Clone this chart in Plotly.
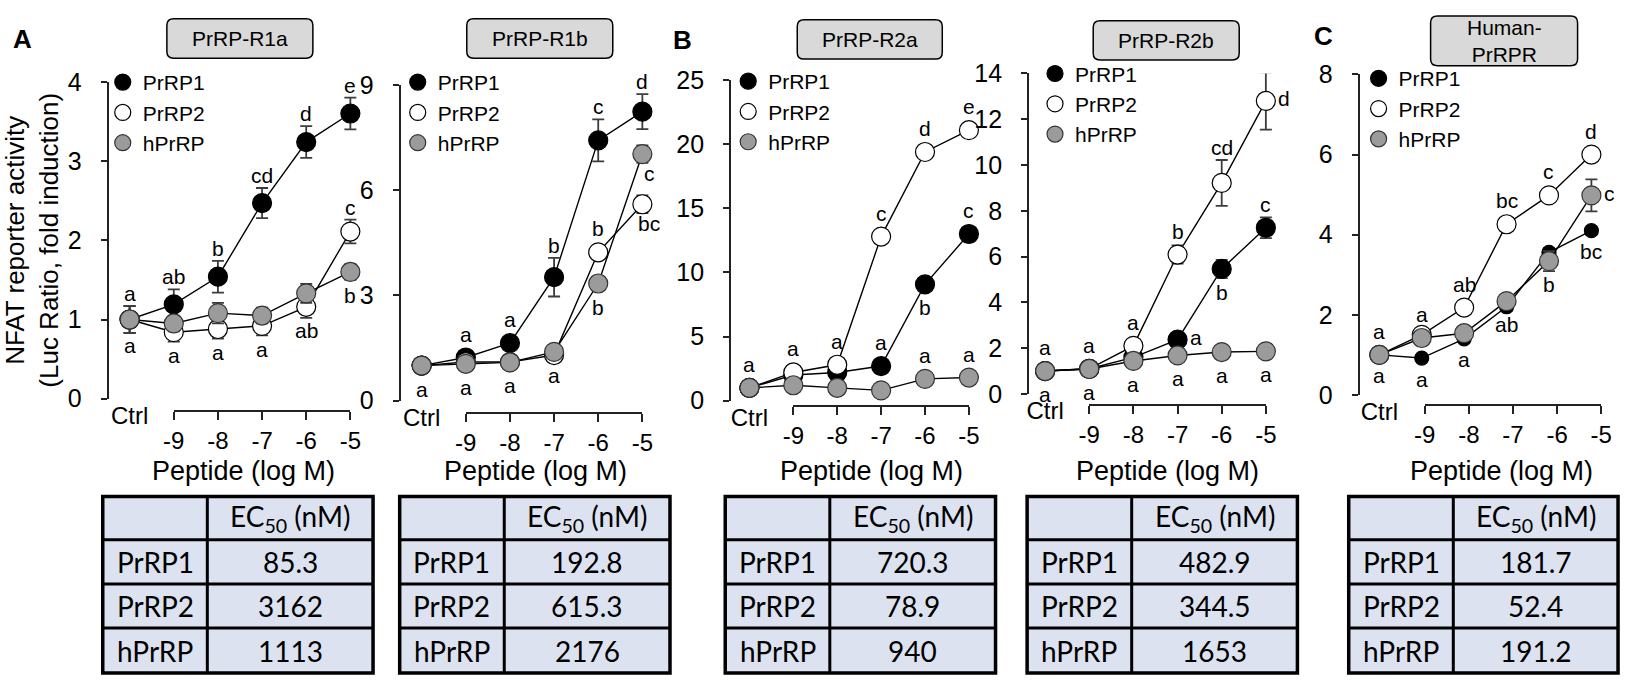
import plotly.graph_objects as go

W, H = 1632, 690
FONT = "Liberation Sans, Arial"

DOSES = [-10, -9, -8, -7, -6, -5]      # -10 is the Ctrl position
DOSE_TICKS = [-9, -8, -7, -6, -5]
DOSE_LABELS = ["-9", "-8", "-7", "-6", "-5"]
PEPTIDES = ["PrRP1", "PrRP2", "hPrRP"]

# PrRP-R1a
R1A_P1 = [1.0, 1.19, 1.54, 2.47, 3.24, 3.6]
R1A_P1_ERR = [0.17, 0.19, 0.2, 0.19, 0.2, 0.2]
R1A_P1_LET = ["", "ab:t", "b:t", "cd:t", "d:t", "e:t"]
R1A_P2 = [1.0, 0.84, 0.88, 0.92, 1.16, 2.11]
R1A_P2_ERR = [0.17, 0.12, 0.12, 0.12, 0.14, 0.15]
R1A_P2_LET = ["a:b", "a:b", "a:b", "a:b", "ab:b", "c:t"]
R1A_H = [1.0, 0.95, 1.08, 1.05, 1.33, 1.6]
R1A_H_ERR = [0.17, 0.1, 0.13, 0.1, 0.12, 0.1]
R1A_H_LET = ["a:t", "", "", "", "", "b:b"]

# PrRP-R1b
R1B_P1 = [1.0, 1.23, 1.64, 3.52, 7.42, 8.24]
R1B_P1_ERR = [0.1, 0.1, 0.15, 0.55, 0.6, 0.5]
R1B_P1_LET = ["", "a:t", "a:t", "b:t", "c:t", "d:t"]
R1B_P2 = [1.0, 1.1, 1.1, 1.3, 4.23, 5.6]
R1B_P2_ERR = [0.1, 0.1, 0.1, 0.2, 0.2, 0.25]
R1B_P2_LET = ["", "", "", "", "b:t", "bc:br"]
R1B_H = [1.0, 1.05, 1.09, 1.39, 3.34, 7.03]
R1B_H_ERR = [0.1, 0.1, 0.1, 0.2, 0.2, 0.25]
R1B_H_LET = ["a:b", "a:b", "a:b", "a:b", "b:b", "c:br"]

# PrRP-R2a
R2A_P1 = [1.0, 2.0, 2.2, 2.7, 9.07, 13.0]
R2A_P1_ERR = [0.2, 0.2, 0.2, 0.3, 0.4, 0.4]
R2A_P1_LET = ["", "", "", "a:t", "b:b", "c:t"]
R2A_P2 = [1.0, 2.2, 2.8, 12.8, 19.4, 21.1]
R2A_P2_ERR = [0.2, 0.3, 0.3, 0.4, 0.4, 0.5]
R2A_P2_LET = ["", "a:t", "a:t", "c:t", "d:t", "e:t"]
R2A_H = [1.0, 1.2, 1.0, 0.8, 1.7, 1.8]
R2A_H_ERR = [0.2, 0.2, 0.2, 0.2, 0.2, 0.2]
R2A_H_LET = ["a:t", "", "", "", "a:t", "a:t"]

# PrRP-R2b
R2B_P1 = [1.0, 1.1, 1.6, 2.37, 5.46, 7.26]
R2B_P1_ERR = [0.1, 0.1, 0.1, 0.3, 0.4, 0.45]
R2B_P1_LET = ["a:b", "a:b", "", "a:r", "b:b", "c:t"]
R2B_P2 = [1.0, 1.1, 2.1, 6.09, 9.22, 12.8]
R2B_P2_ERR = [0.1, 0.1, 0.1, 0.4, 1.0, 1.25]
R2B_P2_LET = ["", "", "a:t", "b:t", "cd:t", "d:r"]
R2B_H = [1.0, 1.09, 1.44, 1.68, 1.83, 1.86]
R2B_H_ERR = [0.1, 0.1, 0.1, 0.1, 0.1, 0.1]
R2B_H_LET = ["a:t", "a:t", "a:b", "a:b", "a:b", "a:b"]

# Human-PrRPR
C_P1 = [1.0, 0.92, 1.4, 2.2, 3.56, 4.1]
C_P1_ERR = [0.1, 0.05, 0.05, 0.1, 0.1, 0.1]
C_P1_LET = ["a:b", "a:b", "a:b", "", "", "bc:b"]
C_P2 = [1.0, 1.5, 2.18, 4.26, 4.98, 6.0]
C_P2_ERR = [0.1, 0.1, 0.1, 0.1, 0.1, 0.1]
C_P2_LET = ["", "", "ab:t", "bc:t", "c:t", "d:t"]
C_H = [1.0, 1.42, 1.54, 2.34, 3.34, 4.98]
C_H_ERR = [0.1, 0.1, 0.1, 0.1, 0.25, 0.4]
C_H_LET = ["a:t", "a:t", "", "ab:b", "b:b", "c:r"]

# EC50 (nM)
EC50_R1A = [85.3, 3162, 1113]
EC50_R1B = [192.8, 615.3, 2176]
EC50_R2A = [720.3, 78.9, 940]
EC50_R2B = [482.9, 344.5, 1653]
EC50_C = [181.7, 52.4, 191.2]

RECEPTORS = ["PrRP-R1a", "PrRP-R1b", "PrRP-R2a", "PrRP-R2b", "Human-<br>PrRPR"]
PANEL_DATA = [
    [(R1A_P1, R1A_P1_ERR, R1A_P1_LET), (R1A_P2, R1A_P2_ERR, R1A_P2_LET), (R1A_H, R1A_H_ERR, R1A_H_LET)],
    [(R1B_P1, R1B_P1_ERR, R1B_P1_LET), (R1B_P2, R1B_P2_ERR, R1B_P2_LET), (R1B_H, R1B_H_ERR, R1B_H_LET)],
    [(R2A_P1, R2A_P1_ERR, R2A_P1_LET), (R2A_P2, R2A_P2_ERR, R2A_P2_LET), (R2A_H, R2A_H_ERR, R2A_H_LET)],
    [(R2B_P1, R2B_P1_ERR, R2B_P1_LET), (R2B_P2, R2B_P2_ERR, R2B_P2_LET), (R2B_H, R2B_H_ERR, R2B_H_LET)],
    [(C_P1, C_P1_ERR, C_P1_LET), (C_P2, C_P2_ERR, C_P2_LET), (C_H, C_H_ERR, C_H_LET)],
]
EC50 = [EC50_R1A, EC50_R1B, EC50_R2A, EC50_R2B, EC50_C]

# layout in pixels (x0/x1 plot edges, d9/d5 data columns, t9/t5 tick ends)
GEOM = [
    dict(x0=99, x1=362, ytop=70.7, ybot=401, d9=165, d5=344, t9=165, t5=344, yline=414,
         ymax=4, dtick=1, tx=236, box=(158, 5, 306, 46), leg=(120, 81), tab=(93, 367)),
    dict(x0=395, x1=658, ytop=74, ybot=403, d9=461, d5=640, t9=461, t5=640, yline=416,
         ymax=9, dtick=3, tx=532, box=(462, 5, 610, 46), leg=(419, 81), tab=(394, 668)),
    dict(x0=730, x1=989, ytop=69, ybot=403, d9=793, d5=971, t9=793, t5=971, yline=409,
         ymax=25, dtick=5, tx=872, box=(797, 6, 944, 47), leg=(754, 80), tab=(724, 998)),
    dict(x0=1032, x1=1290, ytop=62, ybot=396, d9=1093, d5=1272, t9=1093, t5=1272, yline=408,
         ymax=14, dtick=2, tx=1172, box=(1097, 7, 1245, 48), leg=(1065, 72), tab=(1030, 1304)),
    dict(x0=1367, x1=1625, ytop=63, ybot=397, d9=1430, d5=1602, t9=1433, t5=1612, yline=408,
         ymax=8, dtick=2, tx=1511, box=(1439, 2, 1588, 54), leg=(1393, 77), tab=(1356, 1629)),
]
TAB_ROWS = [503, 548, 594, 640, 687]   # row borders of the EC50 tables
TAB_COL = 106                          # width of the name column

MARKERS = [
    dict(color="black", line=dict(color="black", width=1.2)),
    dict(color="white", line=dict(color="black", width=1.2)),
    dict(color="#9b9b9b", line=dict(color="#333333", width=1.2)),
]


def px(x):
    return x / W


def py(y):
    return 1 - y / H


def rbox(x0, y0, x1, y1, r=7):
    pts = [
        f"M {px(x0 + r)},{py(y0)}", f"L {px(x1 - r)},{py(y0)}",
        f"Q {px(x1)},{py(y0)} {px(x1)},{py(y0 + r)}", f"L {px(x1)},{py(y1 - r)}",
        f"Q {px(x1)},{py(y1)} {px(x1 - r)},{py(y1)}", f"L {px(x0 + r)},{py(y1)}",
        f"Q {px(x0)},{py(y1)} {px(x0)},{py(y1 - r)}", f"L {px(x0)},{py(y0 + r)}",
        f"Q {px(x0)},{py(y0)} {px(x0 + r)},{py(y0)}", "Z",
    ]
    return " ".join(pts)


def paper_text(x, y, text, size, **kw):
    return dict(x=px(x), y=py(y), xref="paper", yref="paper", text=text, showarrow=False,
                xanchor="center", yanchor="middle", font=dict(size=size, **kw))


fig = go.Figure()
annotations = []
shapes = []
layout = {}

for i, g in enumerate(GEOM):
    n = i + 1
    xa, ya, ta = f"x{n}", f"y{n}", f"x{n + 5}"
    leg = "legend" if i == 0 else f"legend{n}"
    s = (g["d5"] - g["d9"]) / 4
    xr = [-9 - (g["d9"] - g["x0"]) / s, -5 + (g["x1"] - g["d5"]) / s]
    pu = (g["ybot"] - g["ytop"]) / g["ymax"]
    sizes = [19, 19, 19] if i < 4 else [14, 19, 19]

    # connecting lines first, markers on top
    for vals, err, lets in PANEL_DATA[i]:
        fig.add_trace(go.Scatter(x=DOSES, y=vals, mode="lines", xaxis=xa, yaxis=ya,
                                 line=dict(color="black", width=1.4),
                                 showlegend=False, hoverinfo="skip"))
    for k, (vals, err, lets) in enumerate(PANEL_DATA[i]):
        fig.add_trace(go.Scatter(
            x=DOSES, y=vals, mode="markers", xaxis=xa, yaxis=ya, cliponaxis=False,
            marker=dict(size=sizes[k], **MARKERS[k]),
            error_y=dict(type="data", array=err, color="#3c3c3c", thickness=1.8, width=6),
            showlegend=False, name=PEPTIDES[k]))
        rad = sizes[k] / 2
        for x, v, e, l in zip(DOSES, vals, err, lets):
            if not l:
                continue
            txt, pos = l.split(":")
            off = max(rad + 2, e * pu) + 12
            xs, ys = 0, 0
            if pos == "t":
                ys = off
            elif pos == "b":
                ys = -off
            elif pos == "r":
                xs, ys = rad + 9, 2
            elif pos == "br":
                xs, ys = 7, -(rad + 10)
            annotations.append(dict(x=x, y=v, xref=xa, yref=ya, text=txt, showarrow=False,
                                    xshift=xs, yshift=ys, font=dict(size=21, color="black")))
    for k, name in enumerate(PEPTIDES):
        fig.add_trace(go.Scatter(x=[None], y=[None], mode="markers", name=name, legend=leg,
                                 xaxis=xa, yaxis=ya, marker=dict(size=16, **MARKERS[k])))
    # helper trace so the dose axis gets drawn
    fig.add_trace(go.Scatter(x=DOSE_TICKS, y=[None] * 5, xaxis=ta, yaxis=ya,
                             showlegend=False, hoverinfo="skip"))

    layout[f"xaxis{n}"] = dict(domain=[px(g["x0"]), px(g["x1"])], range=xr, anchor=ya,
                               showline=False, showgrid=False, zeroline=False, ticks="",
                               tickvals=[-10], ticktext=["Ctrl"], tickfont=dict(size=24),
                               fixedrange=True)
    layout[f"xaxis{n + 5}"] = dict(domain=[px(g["t9"]), px(g["t5"])], range=[-9, -5],
                                   anchor="free", position=py(g["yline"]),
                                   showline=True, linewidth=2, linecolor="#222",
                                   ticks="outside", ticklen=8, tickwidth=2, tickcolor="#222",
                                   tickvals=DOSE_TICKS, ticktext=DOSE_LABELS,
                                   tickfont=dict(size=24),
                                   showgrid=False, zeroline=False, fixedrange=True)
    layout[f"yaxis{n}"] = dict(domain=[py(g["ybot"]), py(g["ytop"])], range=[0, g["ymax"]],
                               anchor=xa, showline=True, linewidth=2, linecolor="#222",
                               ticks="outside", ticklen=6, tickwidth=2, tickcolor="#222",
                               tickvals=list(range(0, g["ymax"] + 1, g["dtick"])),
                               tickfont=dict(size=25), ticklabelstandoff=14,
                               showgrid=False, zeroline=False, fixedrange=True)
    lx, ly = g["leg"]
    layout[leg] = dict(x=px(lx - 27), y=py(ly - 31), xanchor="left", yanchor="top",
                       bgcolor="rgba(0,0,0,0)", font=dict(size=21), tracegroupgap=0)

    annotations.append(paper_text(g["tx"], 476, "Peptide (log M)", 27))
    bx0, by0, bx1, by1 = g["box"]
    shapes.append(dict(type="path", xref="paper", yref="paper", path=rbox(bx0, by0, bx1, by1),
                       fillcolor="#d9d9d9", line=dict(color="black", width=1.5)))
    annotations.append(paper_text((bx0 + bx1) / 2, (by0 + by1) / 2, RECEPTORS[i], 21))

    # EC50 table
    t0, t1 = g["tab"]
    tc = t0 + TAB_COL
    shapes.append(dict(type="rect", xref="paper", yref="paper", x0=px(t0), x1=px(t1),
                       y0=py(TAB_ROWS[-1]), y1=py(TAB_ROWS[0]), fillcolor="#dce2f0",
                       line=dict(color="black", width=3.5)))
    shapes.append(dict(type="line", xref="paper", yref="paper", x0=px(tc), x1=px(tc),
                       y0=py(TAB_ROWS[-1]), y1=py(TAB_ROWS[0]), line=dict(color="black", width=3)))
    for r in TAB_ROWS[1:-1]:
        shapes.append(dict(type="line", xref="paper", yref="paper", x0=px(t0), x1=px(t1),
                           y0=py(r), y1=py(r), line=dict(color="black", width=3)))
    cy = [(a + b) / 2 for a, b in zip(TAB_ROWS[:-1], TAB_ROWS[1:])]
    annotations.append(paper_text((tc + t1) / 2, cy[0], "EC<sub>50</sub> (nM)", 28, family="Lato"))
    for r, (name, v) in enumerate(zip(PEPTIDES, EC50[i])):
        annotations.append(paper_text((t0 + tc) / 2, cy[r + 1], name, 28, family="Lato"))
        annotations.append(paper_text((tc + t1) / 2, cy[r + 1], str(v), 28, family="Lato"))

layout["yaxis1"]["title"] = dict(text="NFAT reporter activity<br>(Luc Ratio, fold induction)",
                                 font=dict(size=26), standoff=4)

for lab, x, y in [("A", 12, 26), ("B", 681, 27), ("C", 1330, 23)]:
    annotations.append(paper_text(x, y, f"<b>{lab}</b>", 26))

fig.update_layout(
    width=W, height=H, margin=dict(l=0, r=0, t=0, b=0),
    paper_bgcolor="white", plot_bgcolor="rgba(0,0,0,0)",
    font=dict(family=FONT, color="black"),
    annotations=annotations, shapes=shapes, **layout,
)

fig.write_html("out.html", config={"displayModeBar": False},
               post_script="document.body.style.margin='0';")
